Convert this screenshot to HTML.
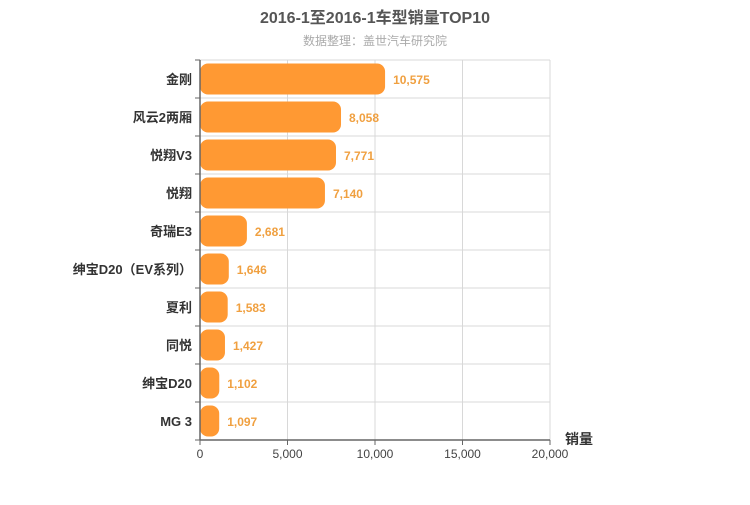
<!DOCTYPE html>
<html><head><meta charset="utf-8"><style>
body{margin:0;width:750px;height:500px;background:#fff;font-family:"Liberation Sans","Noto Sans CJK SC",sans-serif;}
</style></head><body>
<svg id="c" width="750" height="500" xmlns="http://www.w3.org/2000/svg">
<text x="375" y="23" text-anchor="middle" font-size="16" font-weight="bold" fill="#555">2016-1至2016-1车型销量TOP10</text>
<text x="375" y="45" text-anchor="middle" font-size="12" fill="#aaa">数据整理：盖世汽车研究院</text>
<g id="grid"></g><g id="bars"></g><g id="axes"></g>
</svg>
<script>
const categories=["金刚","风云2两厢","悦翔V3","悦翔","奇瑞E3","绅宝D20（EV系列）","夏利","同悦","绅宝D20","MG 3"];
const values=[10575,8058,7771,7140,2681,1646,1583,1427,1102,1097];
const ticks=[0,5000,10000,15000,20000];
const ns="http://www.w3.org/2000/svg";
const X0=200,X1=550,Y0=60,Y1=440,MAX=20000;
const xs=v=>X0+(X1-X0)*v/MAX;
const rowH=(Y1-Y0)/categories.length;
function mk(tag,attrs,parent,text){const e=document.createElementNS(ns,tag);for(const k in attrs)e.setAttribute(k,attrs[k]);if(text!==undefined)e.textContent=text;document.getElementById(parent).appendChild(e);return e;}
const fmt=v=>v.toLocaleString("en-US");
ticks.forEach(t=>{
 if(t>0){const g=mk("line",{x1:xs(t),x2:xs(t),y1:Y0,y2:Y1,stroke:"#d8d8d8"},"grid");
 
 }
 const l=mk("text",{x:xs(t),y:Y1+18,"text-anchor":"middle","font-size":12,fill:"#444"},"axes",fmt(t));
 
 
 mk("line",{x1:xs(t),x2:xs(t),y1:Y1,y2:Y1+5,stroke:"#666"},"axes");
});
for(let i=0;i<=categories.length;i++){
 const y=Y0+i*rowH;
 const g=mk("line",{x1:X0,x2:X1,y1:y,y2:y,stroke:"#d8d8d8"},"grid");
 
 
 mk("line",{x1:X0-5,x2:X0,y1:y,y2:y,stroke:"#666"},"axes");
}
categories.forEach((c,i)=>{
 const yc=Y0+(i+0.5)*rowH;
 const b=mk("rect",{x:X0,y:yc-15.5,width:xs(values[i])-X0,height:31,rx:8,ry:8,fill:"#ff9933"},"bars");
 
 
 const v=mk("text",{x:xs(values[i])+8,y:yc+5,"font-size":12,"font-weight":"bold",fill:"#f0a040"},"bars",fmt(values[i]));
 
 
 const l=mk("text",{x:X0-8,y:yc+5,"text-anchor":"end","font-size":13,"font-weight":"bold",fill:"#333"},"axes",c);
 
 
});
const ya=mk("line",{x1:X0,x2:X0,y1:Y0,y2:Y1,stroke:"#666","stroke-width":1.5},"axes");


const xa=mk("line",{x1:X0,x2:X1,y1:Y1,y2:Y1,stroke:"#666","stroke-width":1.5},"axes");


const at=mk("text",{x:565,y:444,"font-size":14,"font-weight":"bold",fill:"#333"},"axes","销量");


</script>
</body></html>
